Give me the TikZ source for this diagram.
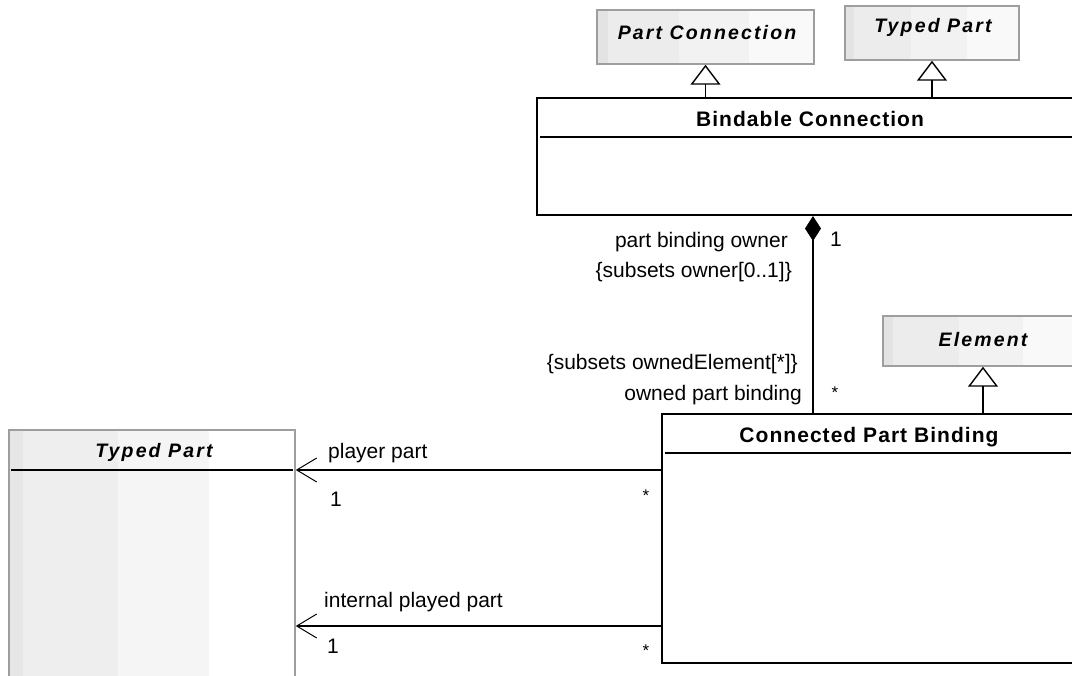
\documentclass[tikz,border=0pt]{standalone}
\usepackage{fontspec}
\setmainfont{Liberation Sans}
\newfontfamily\titlefont[LetterSpace=5]{Liberation Sans}
\newfontfamily\abstractfont[LetterSpace=11]{Liberation Sans}
\usetikzlibrary{arrows.meta,calc}

\definecolor{boxgray}{gray}{0.62}
\definecolor{bandA}{gray}{0.89}
\definecolor{bandB}{gray}{0.925}
\definecolor{bandC}{gray}{0.95}
\definecolor{bandD}{gray}{0.975}

\tikzset{
  % four vertical bands, darkest at the left
  bandfill/.style n args={4}{path picture={
    \coordinate (bbsw) at (path picture bounding box.south west);
    \coordinate (bbne) at (path picture bounding box.north east);
    \coordinate (bbnw) at (bbsw |- bbne);
    \coordinate (bbse) at (bbsw -| bbne);
    \fill[#1] (bbsw) rectangle ($(bbnw)!0.05!(bbne)$);
    \fill[#2] ($(bbsw)!0.05!(bbse)$) rectangle ($(bbnw)!0.38!(bbne)$);
    \fill[#3] ($(bbsw)!0.38!(bbse)$) rectangle ($(bbnw)!0.70!(bbne)$);
    \fill[#4] ($(bbsw)!0.70!(bbse)$) rectangle (bbne);
  }},
  abstractbox/.style={draw=boxgray, line width=1.5pt, inner sep=0pt,
    bandfill={bandA}{bandB}{bandC}{bandD}},
  bigabstractbox/.style={draw=boxgray, line width=1.5pt, inner sep=0pt,
    bandfill={bandA!90}{bandB!90}{bandC!80}{white}},
  classbox/.style={draw=black, line width=2pt, fill=white, inner sep=0pt},
  sepline/.style={line width=1.6pt},
  boldtitle/.style={inner sep=0pt, font=\titlefont\bfseries\fontsize{21}{25}\selectfont},
  abstracttitle/.style={inner sep=0pt, font=\abstractfont\bfseries\itshape\fontsize{19.5}{23}\selectfont},
  lbl/.style={inner sep=0pt, font=\fontsize{21}{25}\selectfont},
  mult/.style={inner sep=0pt, font=\fontsize{21}{25}\selectfont},
  star/.style={inner sep=0pt, font=\fontsize{17}{20}\selectfont},
  gen/.style={line width=1.6pt, -{Triangle[open, length=20pt, width=30pt, line width=1.4pt]}},
  comp/.style={line width=1.6pt, {Diamond[length=25pt, width=16pt]}-},
  nav/.style={line width=1.6pt, -{Straight Barb[length=20pt, width=24pt, line width=1pt]}},
}

\begin{document}
\begin{tikzpicture}[x=1pt, y=-1pt]
\useasboundingbox (0,0) rectangle (1072,676);
\clip (0,0) rectangle (1072,676);
\fill[white] (0,0) rectangle (1072,676);

% classes
\node[abstractbox, minimum width=217pt, minimum height=54pt] (pc) at (705.5,37) {};
\node[abstractbox, minimum width=174pt, minimum height=54pt] (tpa) at (932,33) {};
\node[classbox, minimum width=545pt, minimum height=117pt] (bc) at (809.5,156.5) {};
\node[abstractbox, minimum width=200pt, minimum height=50pt] (el) at (983,341) {};
\node[classbox, minimum width=412pt, minimum height=249pt] (cpb) at (868,538.5) {};
\node[bigabstractbox, minimum width=286pt, minimum height=270pt] (tpb) at (152,565) {};

% compartment separators
\draw[sepline] ([shift={(4,40)}]bc.north west) -- ([shift={(-4,40)}]bc.north east);
\draw[sepline] ([shift={(4,40)}]cpb.north west) -- ([shift={(-4,40)}]cpb.north east);
\draw[sepline] ([shift={(3,41)}]tpb.north west) -- ([shift={(-3,41)}]tpb.north east);

% class names
\node[abstracttitle, anchor=base] (pct) at (707,40) {Part Connection};
\node[abstracttitle, anchor=base] (tpat) at (933,33) {Typed Part};
\node[boldtitle, anchor=base] (bct) at (810,127) {Bindable Connection};
\node[abstracttitle, anchor=base] (elt) at (983,347) {Element};
\node[boldtitle, anchor=base] (cpbt) at (869,443) {Connected Part Binding};
\node[abstracttitle, anchor=base] (tpbt) at (154,458) {Typed Part};

% generalizations
\draw[gen] (pc.south |- bc.north) -- (pc.south);
\draw[gen] (tpa.south |- bc.north) -- (tpa.south);
\draw[gen] (el.south |- cpb.north) -- (el.south);

% composition
\coordinate (cx) at (813,0);
\draw[comp] (bc.south -| cx) -- (cpb.north -| cx);
\node[lbl, anchor=base east] (pbo) at (788,248) {part binding owner};
\node[lbl, anchor=base east] (pbos) at (792,278) {\{subsets owner[0..1]\}};
\node[mult, anchor=base west] (pbom) at (830,247) {1};
\node[lbl, anchor=base east] (opbs) at (798,370) {\{subsets ownedElement[*]\}};
\node[lbl, anchor=base east] (opb) at (802,401) {owned part binding};
\node[star, anchor=base] (opbm) at (835,399) {*};

% navigable associations
\coordinate (py) at (0,470);
\draw[nav] (cpb.west |- py) -- (tpb.east |- py);
\node[lbl, anchor=base west] (ppl) at (328,459) {player part};
\node[mult, anchor=base] (ppm) at (336,506) {1};
\node[star, anchor=base] (ppo) at (646,501) {*};

\coordinate (iy) at (0,626);
\draw[nav] (cpb.west |- iy) -- (tpb.east |- iy);
\node[lbl, anchor=base west] (ipl) at (324,607) {internal played part};
\node[mult, anchor=base] (ipm) at (333,653) {1};
\node[star, anchor=base] (ipo) at (646,656) {*};
\end{tikzpicture}
\end{document}
